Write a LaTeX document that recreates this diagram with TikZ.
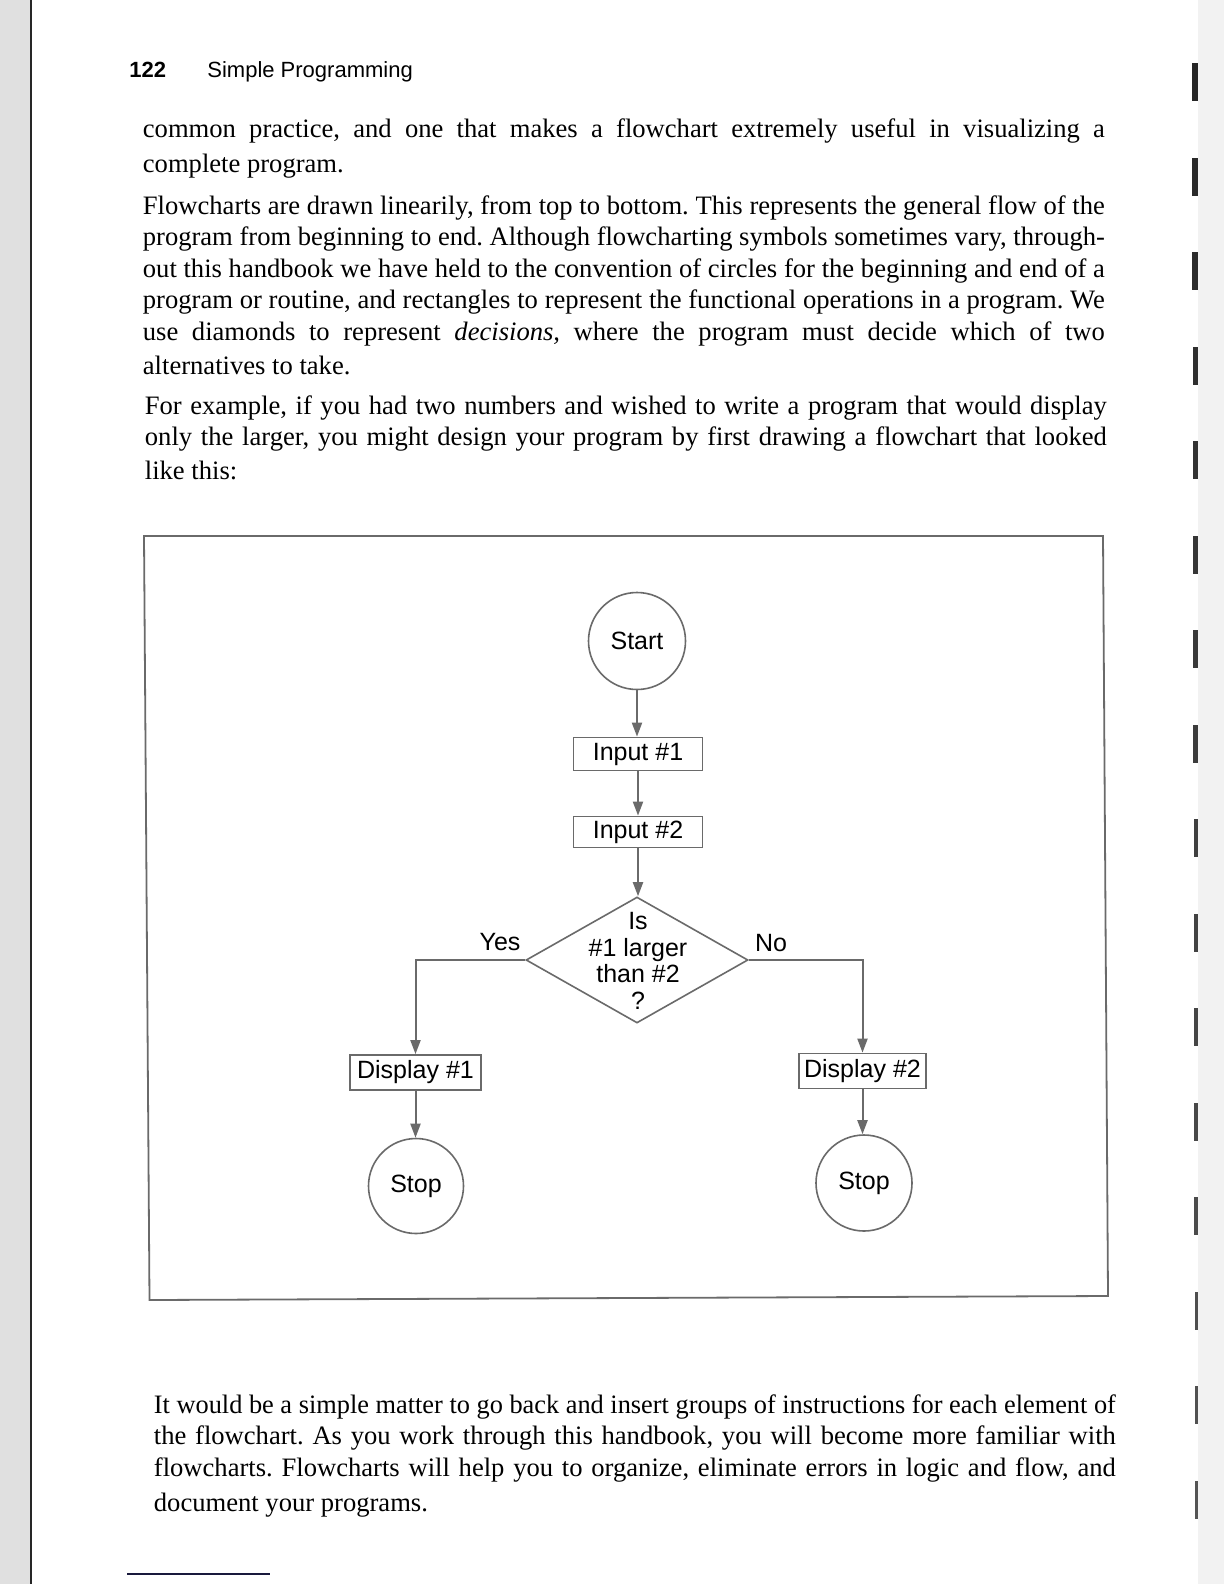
\documentclass[tikz,border=0pt]{standalone}
\usepackage{fontspec}
\setmainfont{Liberation Serif}
\setsansfont{Liberation Sans}
\usetikzlibrary{arrows.meta,shapes.geometric,calc}
\frenchspacing
\newlength\jw
\setlength\jw{481pt}
\newlength\natw
\newcommand\jline[1]{\settowidth\natw{#1}\ifdim\natw>\jw\pgfmathsetmacro\jr{\jw/\natw}\scalebox{\jr}[1]{#1}\else\makebox[\jw][s]{#1}\fi}
\definecolor{linegray}{HTML}{6A6A6A}
\definecolor{rulecol}{RGB}{25,25,60}
\begin{document}
\begin{tikzpicture}[x=0.5pt,y=-0.5pt,
  bodytext/.style={anchor=base west,inner sep=0pt,font=\fontsize{13.3}{16}\selectfont},
  headtext/.style={anchor=base west,inner sep=0pt,font=\sffamily\fontsize{11}{13}\selectfont},
  flowfont/.style={font=\sffamily\fontsize{12.5}{13.3}\selectfont},
  termnode/.style={circle,draw=linegray,line width=0.8pt,inner sep=0pt,flowfont},
  procbox/.style={rectangle,draw=linegray,line width=0.9pt,inner sep=0pt,flowfont},
  decnode/.style={diamond,draw=linegray,line width=0.8pt,inner sep=0pt,minimum width=111pt,minimum height=63pt,aspect=1.76},
  lbl/.style={inner sep=0pt,flowfont,align=center},
  arr/.style={draw=linegray,line width=1pt,-{Triangle[length=7pt,width=5pt]}},
  conn/.style={draw=linegray,line width=1pt}]
\useasboundingbox (0,0) rectangle (1224,1584);
\fill[white] (0,0) rectangle (1224,1584);
% scan margins
\fill[black!12] (0,0) rectangle (31,1584);
\draw[black!85,line width=1.2pt] (31,0) -- (31,1584);
\fill[black!5] (1198,0) rectangle (1224,1584);
\foreach \i in {0,...,15}{
  \pgfmathsetmacro\wd{5.5-0.2*\i}
  \pgfmathsetmacro\sh{85-1.2*\i}
  \fill[black!\sh] (1197.5-\wd,63+94.5*\i) rectangle ++(\wd,38);
}
% header
\node[headtext,font=\sffamily\bfseries\fontsize{11}{13}\selectfont] (pgnum) at (129,78) {122};
\node[headtext] (runhead) at (207,78) {Simple Programming};
% paragraph 1
\node[bodytext] (p1a) at (142.5,138) {\jline{common practice, and one that makes a flowchart extremely useful in visualizing a}};
\node[bodytext] (p1b) at (142.5,172) {complete program.};
% paragraph 2
\node[bodytext] (p2a) at (142.5,214) {\jline{Flowcharts are drawn linearily, from top to bottom. This represents the general flow of the}};
\node[bodytext] (p2b) at (142.5,245) {\jline{program from beginning to end. Although flowcharting symbols sometimes vary, through-}};
\node[bodytext] (p2c) at (142.5,277) {\jline{out this handbook we have held to the convention of circles for the beginning and end of a}};
\node[bodytext] (p2d) at (142.5,308) {\jline{program or routine, and rectangles to represent the functional operations in a program. We}};
\node[bodytext] (p2e) at (142.5,340) {\jline{use diamonds to represent \textit{decisions,} where the program must decide which of two}};
\node[bodytext] (p2f) at (142.5,374) {alternatives to take.};
% paragraph 3
\node[bodytext] (p3a) at (144.5,414) {\jline{For example, if you had two numbers and wished to write a program that would display}};
\node[bodytext] (p3b) at (144.5,445) {\jline{only the larger, you might design your program by first drawing a flowchart that looked}};
\node[bodytext] (p3c) at (144.5,479) {like this:};
% frame
\draw[linegray,line width=0.9pt] (144,536) -- (1103,536) -- (1108,1296) -- (149.5,1300) -- cycle;
% flowchart
\node[termnode,minimum size=48.5pt] (start) at (637,641) {Start};
\node[procbox,minimum width=64.5pt,minimum height=16.5pt] (in1) at (638,754) {Input \#1};
\node[procbox,minimum width=64.5pt,minimum height=15.5pt] (in2) at (638,832) {Input \#2};
\node[decnode] (dec) at (637,960) {};
\node[lbl] (dectext) at (638,961) {Is\\\#1 larger\\than \#2\\?};
\node[procbox,minimum width=65.5pt,minimum height=17.5pt] (d1) at (415.5,1072.5) {Display \#1};
\node[procbox,minimum width=63.5pt,minimum height=17.5pt] (d2) at (862.5,1071) {Display \#2};
\node[termnode,minimum size=47.5pt] (stop1) at (416,1186) {Stop};
\node[termnode,minimum size=48pt] (stop2) at (864,1183) {Stop};
\node[lbl] (yes) at (500,942) {Yes};
\node[lbl] (no) at (771,943) {No};
\draw[arr] (start.south) -- (start.south |- in1.north);
\draw[arr] (in1.south) -- (in2.north);
\draw[arr] (in2.south) -- (in2.south |- dec.north);
\draw[arr] (dec.west) -| (d1.north);
\draw[arr] (dec.east) -| (d2.north);
\draw[arr] (d1.south) -- (d1.south |- stop1.north);
\draw[arr] (d2.south) -- (d2.south |- stop2.north);
% closing paragraph
\node[bodytext] (c1) at (153.5,1413) {\jline{It would be a simple matter to go back and insert groups of instructions for each element of}};
\node[bodytext] (c2) at (153.5,1444) {\jline{the flowchart. As you work through this handbook, you will become more familiar with}};
\node[bodytext] (c3) at (153.5,1476) {\jline{flowcharts. Flowcharts will help you to organize, eliminate errors in logic and flow, and}};
\node[bodytext] (c4) at (153.5,1511) {document your programs.};
% footnote rule
\draw[rulecol,line width=0.9pt] (127,1574) -- (270,1574);
\end{tikzpicture}
\end{document}
